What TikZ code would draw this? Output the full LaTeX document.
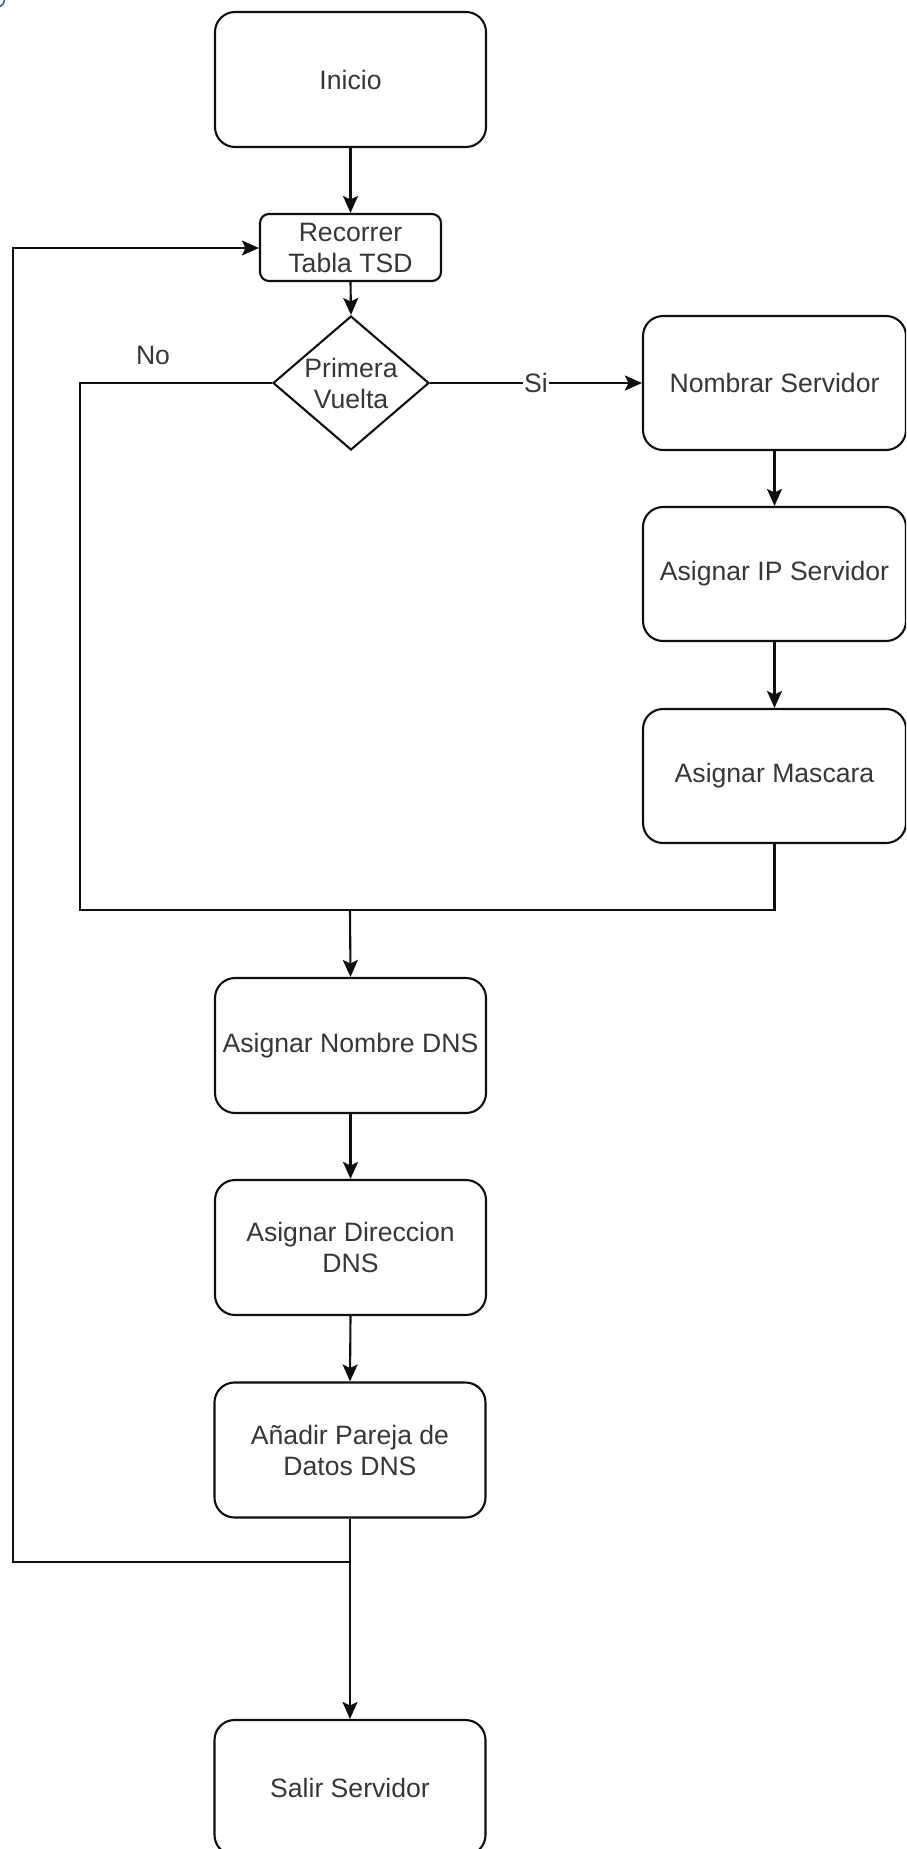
\documentclass[tikz,border=0pt]{standalone}
\usepackage{fontspec}
\setmainfont{Liberation Sans}
\usetikzlibrary{shapes.geometric,arrows.meta,calc}
\definecolor{inkline}{RGB}{15,15,15}
\definecolor{inktext}{RGB}{55,55,55}
\definecolor{linkblue}{RGB}{50,90,170}
\begin{document}
\begin{tikzpicture}[x=1pt,y=-1pt,
  every node/.style={font=\fontsize{26.6}{31}\selectfont, text=inktext},
  flow/.style={line width=2.1pt, draw=inkline},
  arr/.style={flow, -{Stealth[length=17pt,width=15pt,inset=3.5pt]}},
  box/.style={draw=inkline, line width=2.1pt, rounded corners=20pt,
    minimum width=271pt, minimum height=135pt, inner sep=0pt, align=center},
  sidebox/.style={box, minimum width=263pt, minimum height=134pt},
  smallbox/.style={box, rounded corners=9pt, minimum width=181pt, minimum height=67pt},
  decision/.style={diamond, draw=inkline, line width=2.1pt, inner sep=0pt,
    minimum width=156pt, minimum height=134pt},
  edgelabel/.style={fill=white, inner sep=1pt}
]
\clip (0,0) rectangle (906,1849);
\fill[white] (0,0) rectangle (906,1849);

% small blue stroke in the top-left corner
\draw[linkblue, line width=1.5pt] (4.5,0) .. controls (4.5,3) and (3,5) .. (0,6.5);

% main column
\node[box] (inicio) at (350.5,79.5) {Inicio};
\node[smallbox] (recorrer) at (350.5,247.5) {Recorrer\\Tabla TSD};
\node[decision] (dec) at (351,383) {};
\node[align=center] (dectext) at (dec) {Primera\\Vuelta};

% server branch
\node[sidebox] (nombrar) at (774.5,383) {Nombrar Servidor};
\node[sidebox] (ip) at (774.5,574) {Asignar IP Servidor};
\node[sidebox] (mascara) at (774.5,776) {Asignar Mascara};

% DNS steps
\node[box] (nombredns) at (350.5,1045.5) {Asignar Nombre DNS};
\node[box] (direccion) at (350.5,1247.5) {Asignar Direccion\\DNS};
\node[box] (anadir) at (350,1450) {Añadir Pareja de\\Datos DNS};
\node[box] (salir) at (350,1787.5) {Salir Servidor};

% junction points
\coordinate (merge) at (350,910);
\coordinate (nocorner) at (80,910);
\coordinate (loop) at (350,1562);
\coordinate (loopleft) at (13,1562);
\coordinate (looptop) at (13,248);

% connectors
\draw[arr] (inicio.south) -- (recorrer.north);
\draw[arr] (recorrer.south) -- (dec.north);
\draw[arr] (dec.east) -- node[edgelabel] {Si} (nombrar.west);
\draw[arr] (nombrar.south) -- (ip.north);
\draw[arr] (ip.south) -- (mascara.north);
\draw[flow] (dec.west) -| (nocorner) -- (merge);
\draw[flow] (mascara.south) |- (merge);
\draw[arr] (merge) -- (nombredns.north);
\draw[arr] (nombredns.south) -- (direccion.north);
\draw[arr] (direccion.south) -- (anadir.north);
\draw[flow] (anadir.south) -- (loop);
\draw[arr] (loop) -- (salir.north);
\draw[arr] (loop) -- (loopleft) -- (looptop) -- (looptop -| recorrer.west);

\node (nolabel) at (153,355) {No};
\end{tikzpicture}
\end{document}
